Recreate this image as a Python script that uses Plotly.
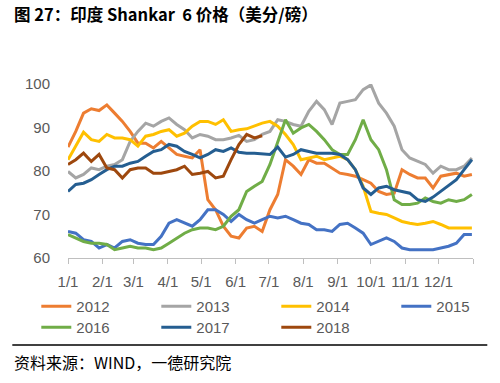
import plotly.graph_objects as go
from datetime import date, timedelta

# weekly sample dates (reference year 2001, non-leap)
start = date(2001, 1, 1)
weeks = list(range(53))
dates = [start + timedelta(days=7 * k) for k in weeks]

month_ticks = [date(2001, m, 1) for m in range(1, 13)] + [date(2002, 1, 1)]
month_labels = [f"{m}/1" for m in range(1, 13)] + [""]

y2012 = [85.5, 89.1, 93.3, 94.3, 93.9, 95.2, 93.3, 91.4, 89.1, 86.4, 86.4, 85.3, 86.8, 85.3,
         83.8, 83.4, 83.0, 84.9, 73.4, 71.1, 67.3, 65.0, 64.6, 66.9, 67.3, 66.1, 71.1, 74.6,
         82.6, 81.1, 79.2, 82.6, 81.8, 81.8, 80.7, 79.5, 79.2, 78.8, 78.0, 77.2, 75.3, 74.6,
         74.9, 80.3, 79.2, 78.4, 78.4, 76.1, 78.8, 79.2, 79.5, 78.8, 79.2]
y2013 = [79.9, 78.4, 79.2, 80.7, 80.3, 81.1, 81.5, 82.6, 86.8, 89.1, 91.0, 90.3, 91.4, 92.2,
         90.7, 89.5, 87.6, 88.4, 88.0, 87.2, 87.2, 87.6, 88.2, 86.8, 87.2, 88.4, 89.1, 91.8,
         91.4, 90.7, 90.3, 93.7, 96.0, 94.1, 90.7, 95.6, 96.0, 96.4, 98.7, 99.8, 95.6, 93.3,
         90.3, 84.9, 83.0, 82.2, 81.5, 79.5, 81.1, 80.3, 80.3, 81.1, 83.0]
y2014 = [82.6, 85.7, 88.9, 87.2, 86.8, 88.4, 87.6, 87.6, 87.2, 85.7, 88.0, 88.4, 89.1, 89.5,
         88.0, 88.7, 90.3, 91.4, 91.4, 90.7, 91.8, 89.1, 89.5, 89.7, 90.3, 91.0, 91.4, 90.3,
         88.4, 86.1, 82.6, 83.0, 83.4, 82.6, 83.0, 83.4, 82.6, 80.3, 76.5, 70.7, 70.3, 70.0,
         69.2, 68.4, 68.0, 67.7, 68.0, 68.4, 67.7, 66.9, 66.9, 66.9, 66.9]
y2015 = [66.1, 65.7, 64.2, 63.8, 62.3, 63.1, 62.3, 63.8, 64.2, 63.4, 63.1, 63.1, 65.0, 68.0,
         68.8, 68.0, 67.3, 68.8, 71.1, 71.1, 70.0, 68.4, 70.0, 68.8, 68.0, 68.8, 69.6, 69.2,
         69.6, 68.8, 68.0, 67.7, 66.5, 66.5, 66.1, 67.7, 68.0, 66.9, 65.7, 63.1, 63.8, 64.6,
         63.8, 62.3, 61.9, 61.9, 61.8, 61.9, 62.3, 62.7, 63.4, 65.4, 65.4]
y2016 = [65.4, 64.6, 63.8, 63.4, 63.4, 63.1, 61.9, 62.3, 62.7, 62.3, 62.3, 61.9, 62.3, 63.4,
         64.6, 65.7, 66.5, 66.9, 66.9, 66.5, 67.3, 69.6, 71.1, 75.3, 76.5, 77.6, 81.5, 86.4,
         91.8, 88.7, 89.9, 90.7, 89.1, 87.2, 84.9, 83.8, 83.8, 87.2, 91.8, 87.2, 84.9, 80.3,
         73.4, 72.3, 72.3, 72.6, 73.8, 73.0, 72.6, 73.4, 73.0, 73.4, 74.6]
y2017 = [75.3, 76.9, 77.2, 78.0, 79.2, 80.3, 81.1, 81.1, 81.8, 82.2, 83.4, 84.5, 84.9, 86.1,
         85.7, 84.5, 83.8, 83.0, 83.8, 84.9, 84.5, 85.3, 84.3, 84.1, 84.1, 83.9, 83.8, 85.5,
         83.2, 83.8, 84.9, 84.5, 84.1, 84.1, 84.1, 83.8, 82.6, 80.3, 76.1, 74.6, 76.1, 76.5,
         75.7, 75.3, 74.9, 73.4, 73.0, 74.0, 75.3, 76.5, 78.0, 80.3, 82.6]
y2018 = [81.5, 82.6, 84.1, 82.2, 83.8, 80.7, 80.3, 78.4, 80.3, 80.7, 80.7, 79.5, 79.5, 79.9,
         80.3, 81.1, 79.2, 79.5, 79.9, 78.4, 78.8, 82.6, 86.1, 88.4, 87.6, 88.1]

series = [
    ("2012", y2012, "#ED7D31"),
    ("2013", y2013, "#A5A5A5"),
    ("2014", y2014, "#FFC000"),
    ("2015", y2015, "#4472C4"),
    ("2016", y2016, "#70AD47"),
    ("2017", y2017, "#255E91"),
    ("2018", y2018, "#9E480E"),
]

W, H = 500, 383
L, R, T, B = 67.7, 27.3, 84, 125
pw, ph = W - L - R, H - T - B

def px(x):
    return (x - L) / pw

def py(y):
    return (H - B - y) / ph

# legend slots (pixel positions of each entry: column x, row top)
legend_cols = [36, 156, 276, 396]
legend_rows = [290, 311]

fig = go.Figure()
legend_layout = {}
for i, (name, vals, color) in enumerate(series):
    lid = "legend" if i == 0 else f"legend{i + 1}"
    fig.add_trace(go.Scatter(
        x=dates[:len(vals)], y=vals, name=name, mode="lines",
        line=dict(color=color, width=3), legend=lid,
    ))
    legend_layout[lid] = dict(
        x=px(legend_cols[i % 4]), y=py(legend_rows[i // 4]),
        xanchor="left", yanchor="top", bgcolor="rgba(0,0,0,0)",
        font=dict(size=15, color="#595959"),
    )

fig.update_layout(
    width=W, height=H,
    margin=dict(l=L, r=R, t=T, b=B, autoexpand=False),
    paper_bgcolor="white", plot_bgcolor="white",
    font=dict(family="Liberation Sans", size=15, color="#595959"),
    showlegend=True,
    xaxis=dict(
        type="date", range=[date(2001, 1, 1), date(2002, 1, 1)],
        tickvals=month_ticks, ticktext=month_labels,
        ticks="outside", ticklen=5, tickcolor="#BFBFBF",
        showline=True, linecolor="#BFBFBF", linewidth=1,
        showgrid=False, zeroline=False, tickfont=dict(size=15, color="#595959"),
        ticklabelstandoff=5,
    ),
    yaxis=dict(
        range=[60, 100], tickvals=[60, 70, 80, 90, 100],
        showgrid=False, showline=False, zeroline=False,
        ticks="outside", ticklen=14, tickcolor="rgba(0,0,0,0)",
        tickfont=dict(size=15, color="#595959"),
    ),
    annotations=[
        dict(text="<b>图 27：印度 Shankar&nbsp; 6 价格（美分/磅）</b>", xref="paper", yref="paper",
             x=px(12), y=py(14), xanchor="left", yanchor="middle", showarrow=False,
             font=dict(family="Noto Sans CJK SC", size=16.5, color="#000000")),
        dict(text="资料来源：WIND，一德研究院", xref="paper", yref="paper",
             x=px(12), y=py(362), xanchor="left", yanchor="middle", showarrow=False,
             font=dict(family="Noto Sans CJK SC", size=16, color="#000000")),
    ],
    shapes=[
        dict(type="line", xref="paper", yref="paper", x0=px(12), x1=px(487),
             y0=py(345), y1=py(345), line=dict(color="black", width=1.5)),
    ],
    **legend_layout,
)

fig.write_html("out.html", config={"displayModeBar": False},
               post_script="document.body.style.margin='0';")
